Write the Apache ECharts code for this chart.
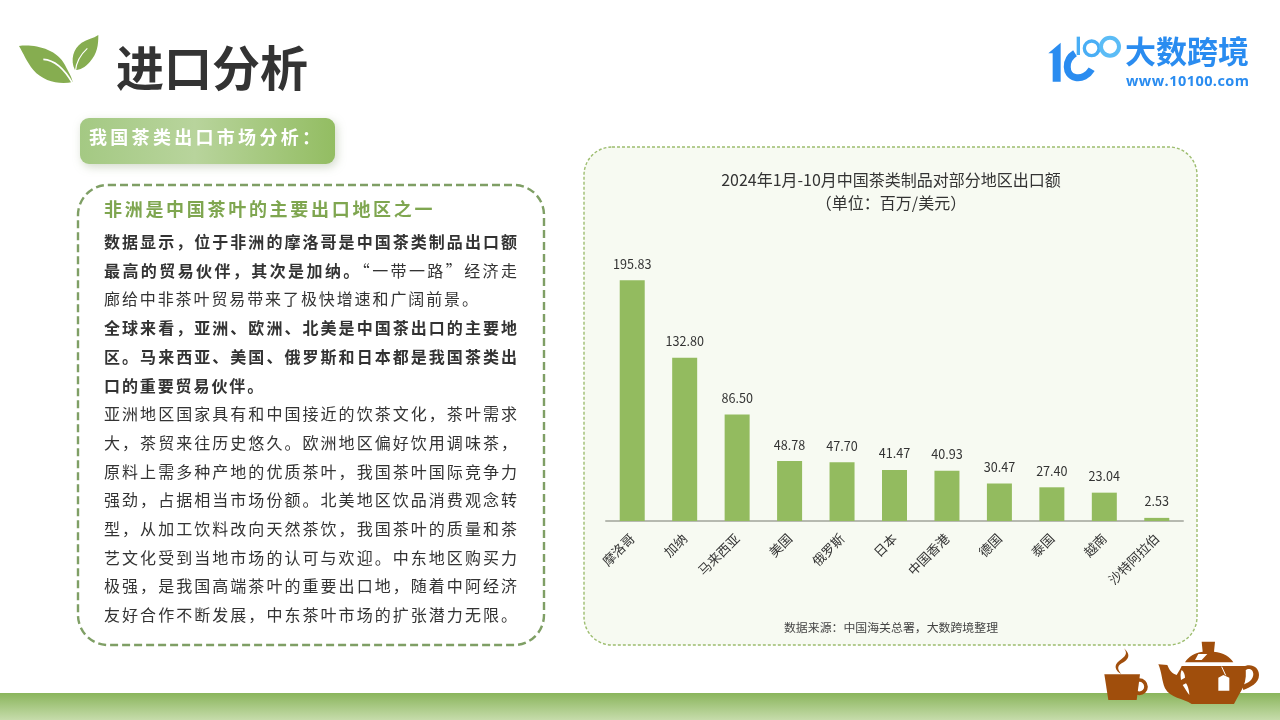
<!DOCTYPE html>
<html lang="zh-CN">
<head>
<meta charset="utf-8">
<title>进口分析</title>
<script src="https://cdn.jsdelivr.net/npm/echarts@6/dist/echarts.min.js"></script>
<style>
html,body{margin:0;padding:0;background:#fff;width:1280px;height:720px;overflow:hidden;font-family:"Noto Sans CJK SC","Noto Sans",sans-serif}
#chart{position:absolute;left:0;top:0;width:1280px;height:720px}
#deco{position:absolute;left:0;top:0;width:1280px;height:720px;pointer-events:none}
.t{position:absolute;white-space:nowrap;line-height:1}
.line{position:absolute;left:104px;width:413px;font-size:16px;color:#333;line-height:20px;height:20px;letter-spacing:1.9px;white-space:nowrap}
.j{text-align:justify;text-align-last:justify;white-space:normal;letter-spacing:0}
b{font-weight:700}
</style>
</head>
<body>
<div id="chart"></div>
<svg id="deco" viewBox="0 0 1280 720" xmlns="http://www.w3.org/2000/svg">
  <g transform="translate(0 20) scale(.33333)">
    <path fill="#86ad50" d="M57 78 C100 72 170 85 195 135 C205 155 215 170 218 186 C180 195 130 185 100 150 C80 125 70 100 57 78 Z"/>
    <path fill="#86ad50" d="M295 45 C295 75 292 100 270 125 C255 142 240 150 225 150 C210 120 220 85 245 68 C262 58 280 55 295 45 Z"/>
    <path fill="none" stroke="#fff" stroke-width="5" d="M130 118 C165 120 195 150 218 190"/>
    <path fill="none" stroke="#fff" stroke-width="3.5" d="M262 85 C240 105 228 125 226 155"/>
  </g>
  <g transform="translate(1030 20) scale(.33333)" fill="none">
    <path fill="#2a8cf0" d="M55 100 L92 68 L92 185 L68 185 L68 100 Z"/>
    <path stroke="#2a8cf0" stroke-width="21" d="M135 100 C103 120 105 165 135 172 C155 177 175 165 185 148"/>
    <path stroke="#49aef5" stroke-width="10" d="M145 50 L145 105"/>
    <circle cx="185" cy="85" r="22" stroke="#49aef5" stroke-width="10"/>
    <circle cx="240" cy="80" r="27" stroke="#5bbcf6" stroke-width="12"/>
  </g>
  <g transform="translate(1080 630) scale(.33333)" fill="#a04e0c">
    <path d="M73 133 L180 133 L170 210 L85 210 Z"/>
    <circle cx="178" cy="170" r="20" fill="none" stroke="#a04e0c" stroke-width="11"/>
    <path d="M132 55 C155 75 145 90 125 100 C108 110 115 122 124 132 C105 122 100 105 118 92 C135 80 145 72 132 55 Z"/>
    <path d="M365 35 L405 35 L402 65 C430 68 450 80 460 97 L315 97 C325 80 345 68 368 65 Z"/>
    <path fill="#fff" d="M355 72 L382 72 L365 90 L345 90 Z"/>
    <path d="M235 103 L262 105 C268 120 275 130 290 135 C298 122 302 114 305 108 L495 108 C500 130 498 150 490 170 C480 190 470 205 462 222 L335 222 C310 205 270 205 255 175 C245 150 245 125 235 103 Z"/>
    <path d="M488 112 C510 98 537 110 537 135 C537 160 510 172 490 180 L486 165 C505 160 520 148 520 132 C520 118 505 112 495 122 Z"/>
    <path fill="#fff" d="M305 120 C300 130 302 140 303 150 L315 143 C315 135 312 125 305 120 Z"/>
    <path fill="#fff" d="M308 165 C315 175 320 185 328 195 C328 180 322 165 318 160 Z"/>
    <path fill="#fff" d="M415 143 L430 135 L448 143 L448 182 L415 182 Z"/>
    <path fill="none" stroke="#fff" stroke-width="3" d="M425 110 L437 136"/>
  </g>
</svg>
<div class="t" style="left:116px;top:37px;font-size:48px;font-weight:700;color:#333;line-height:56px">进口分析</div>
<div class="t" style="left:89px;top:124px;font-size:18px;font-weight:700;color:#fff;letter-spacing:3.3px;line-height:24px">我国茶类出口市场分析：</div>
<div class="t" style="left:104px;top:196px;font-size:18px;font-weight:700;color:#7fa650;letter-spacing:2.7px;line-height:24px">非洲是中国茶叶的主要出口地区之一</div>
<div id="body"></div>
<div class="t" style="left:1125px;top:32px;font-size:31px;font-weight:700;color:#2a8cf0;line-height:36px">大数跨境</div>
<div class="t" style="left:1126px;top:71px;font-size:14.5px;font-weight:700;color:#2a8cf0;line-height:20px;font-family:'Open Sans','Noto Sans',sans-serif;letter-spacing:.45px">www.10100.com</div>
<script>
const categories = ['摩洛哥','加纳','马来西亚','美国','俄罗斯','日本','中国香港','德国','泰国','越南','沙特阿拉伯'];
const exportValues = [195.83,132.80,86.50,48.78,47.70,41.47,40.93,30.47,27.40,23.04,2.53];
const chartTitle = '2024年1月-10月中国茶类制品对部分地区出口额\n（单位：百万/美元）';
const sourceNote = '数据来源：中国海关总署，大数跨境整理';
const bodyLines = [
  ['<b>数据显示，位于非洲的摩洛哥是中国茶类制品出口额</b>',1],
  ['<b>最高的贸易伙伴，其次是加纳。</b>“一带一路”经济走',1],
  ['廊给中非茶叶贸易带来了极快增速和广阔前景。',0],
  ['<b>全球来看，亚洲、欧洲、北美是中国茶出口的主要地</b>',1],
  ['<b>区。马来西亚、美国、俄罗斯和日本都是我国茶类出</b>',1],
  ['<b>口的重要贸易伙伴。</b>',0],
  ['亚洲地区国家具有和中国接近的饮茶文化，茶叶需求',1],
  ['大，茶贸来往历史悠久。欧洲地区偏好饮用调味茶，',1],
  ['原料上需多种产地的优质茶叶，我国茶叶国际竞争力',1],
  ['强劲，占据相当市场份额。北美地区饮品消费观念转',1],
  ['型，从加工饮料改向天然茶饮，我国茶叶的质量和茶',1],
  ['艺文化受到当地市场的认可与欢迎。中东地区购买力',1],
  ['极强，是我国高端茶叶的重要出口地，随着中阿经济',1],
  ['友好合作不断发展，中东茶叶市场的扩张潜力无限。',1]
];
const bodyEl = document.getElementById('body');
bodyLines.forEach(function(l,i){
  const d = document.createElement('div');
  d.className = 'line' + (l[1] ? ' j' : '');
  d.style.top = (231 + i*28.7) + 'px';
  d.innerHTML = l[0];
  bodyEl.appendChild(d);
});

const chart = echarts.init(document.getElementById('chart'), null, {renderer:'canvas'});
chart.setOption({
  animation:false,
  backgroundColor:'transparent',
  textStyle:{fontFamily:'"Noto Sans CJK SC","Noto Sans",sans-serif'},
  title:{
    text:chartTitle,left:886,top:163,textAlign:'center',
    textStyle:{fontSize:16,fontWeight:'normal',color:'#333',lineHeight:23,fontFamily:'"Noto Sans CJK SC"'}
  },
  grid:{left:606,right:97,top:275,height:246,containLabel:false},
  xAxis:{
    type:'category',data:categories,
    axisTick:{show:false},
    axisLine:{lineStyle:{color:'#b6b9b0',width:2}},
    axisLabel:{rotate:45,fontSize:13,color:'#333',margin:15,interval:0,fontFamily:'"Noto Sans CJK SC"'}
  },
  yAxis:{type:'value',min:0,max:200,show:false,splitLine:{show:false}},
  series:[{
    type:'bar',data:exportValues,barWidth:25,
    itemStyle:{color:'#93bb5f'},
    label:{show:true,position:'top',distance:10,fontSize:12.6,color:'#333',fontFamily:'"Noto Sans CJK SC"',
      formatter:function(p){return p.value.toFixed(2);}}
  }],
  graphic:[
    {type:'rect',z:-10,shape:{x:0,y:693,width:1280,height:27},style:{fill:new echarts.graphic.LinearGradient(0,0,0,1,[{offset:0,color:'#8ab55c'},{offset:1,color:'#c6dcab'}])}},
    {type:'rect',z:-9,shape:{x:584,y:147,width:613,height:498,r:28},style:{fill:'#f7faf2',stroke:'#9dbd6f',lineWidth:1.4,lineDash:[3,2]}},
    {type:'rect',z:-9,shape:{x:78,y:185,width:466,height:460,r:30},style:{fill:'#fff',stroke:'#7f9f65',lineWidth:2.4,lineDash:[8,4]}},
    {type:'rect',z:-9,shape:{x:80,y:118,width:255,height:46,r:9},style:{
      fill:new echarts.graphic.LinearGradient(0,0,1,0,[{offset:0,color:'#a4c983'},{offset:.45,color:'#b8d49c'},{offset:1,color:'#93bd62'}]),
      shadowBlur:10,shadowColor:'rgba(90,120,60,.28)',shadowOffsetX:2,shadowOffsetY:3}},
    {type:'text',style:{text:sourceNote,x:891,y:627,align:'center',verticalAlign:'middle',fontSize:11.9,fill:'#444',fontFamily:'"Noto Sans CJK SC"'}}
  ]
});
</script>
</body>
</html>
